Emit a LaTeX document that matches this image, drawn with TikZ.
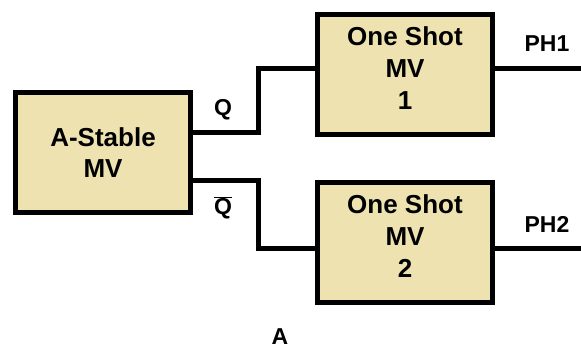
\documentclass[tikz,border=0pt]{standalone}
\usepackage{fontspec}
\setmainfont{Liberation Sans}
\usepackage{tikz}
\usetikzlibrary{calc,positioning}
\definecolor{mvbeige}{RGB}{238,227,176}
\tikzset{
  mvbox/.style={rectangle, draw=black, fill=mvbeige, line width=5pt,
                minimum width=175pt, minimum height=120pt, inner sep=0pt,
                align=center, font=\fontsize{26}{31}\selectfont\bfseries},
  shotbox/.style={mvbox, font=\fontsize{26}{32}\selectfont\bfseries, text depth=13pt},
  wire/.style ={line width=5pt, black},
  sig/.style  ={font=\fontsize{23}{28}\selectfont\bfseries, inner sep=0pt},
}
\begin{document}
\begin{tikzpicture}[x=1pt, y=-1pt]
  \useasboundingbox (0,0) rectangle (581,351);
  \node[mvbox]   (astable) at (103,152.5) {A-Stable\\MV};
  \node[shotbox] (one1)    at (405,74.5)  {One Shot\\MV\\1};
  \node[shotbox] (one2)    at (405,242.5) {One Shot\\MV\\2};
  \coordinate (ph1end) at (581,68);
  \coordinate (ph2end) at (581,248);
  \draw[wire] ([yshift=20.5pt]astable.east) -- ++(65,0) |- ([yshift=6.5pt]one1.west);
  \draw[wire] ([yshift=-27.5pt]astable.east) -- ++(65,0) |- ([yshift=-5.5pt]one2.west);
  \draw[wire] ([yshift=6.5pt]one1.east) -- (ph1end);
  \draw[wire] ([yshift=-5.5pt]one2.east) -- (ph2end);
  \node[sig] (q)    at (223,110) {Q};
  \node[sig] (qbar) at (223,208) {$\overline{\hbox{Q}}$};
  \node[sig] (ph1)  at (547,44)  {PH1};
  \node[sig] (ph2)  at (547,224) {PH2};
  \node[sig] (lbla) at (280,337) {A};
\end{tikzpicture}
\end{document}
